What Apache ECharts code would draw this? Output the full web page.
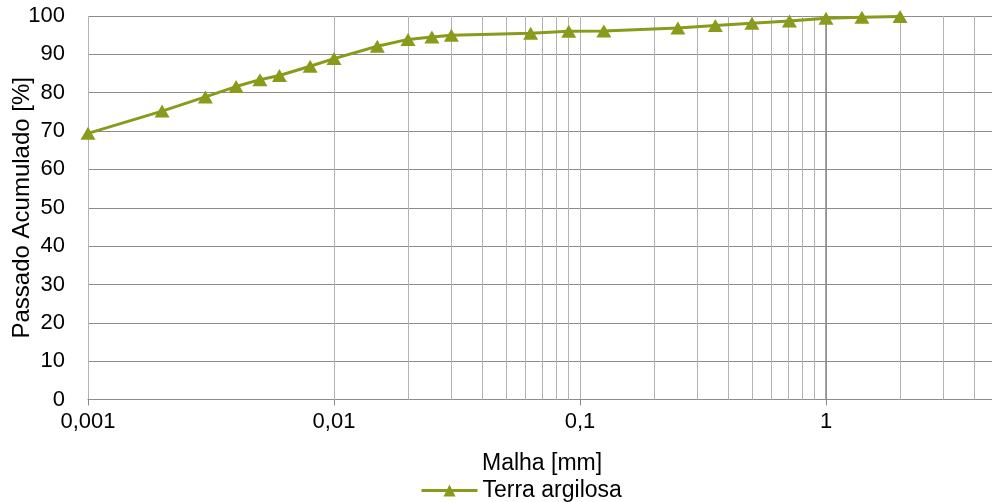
<!DOCTYPE html>
<html>
<head>
<meta charset="utf-8">
<script src="https://cdn.jsdelivr.net/npm/echarts@6/dist/echarts.min.js"></script>
<style>html,body{margin:0;padding:0;background:#fff}#c{width:992px;height:502px}</style>
</head>
<body>
<div id="c"></div>
<script>
// Sieve sizes (mm) and cumulative passing (%)
const sizes = [0.001, 0.002, 0.003, 0.004, 0.005, 0.006, 0.008, 0.01, 0.015, 0.02, 0.025, 0.03, 0.063, 0.09, 0.125, 0.25, 0.355, 0.5, 0.71, 1, 1.4, 2];
const passing = [69.4, 75.2, 78.9, 81.6, 83.4, 84.5, 86.9, 88.9, 92.1, 93.9, 94.5, 95.0, 95.5, 96.0, 96.1, 96.9, 97.5, 98.1, 98.7, 99.4, 99.7, 99.9];
const seriesName = 'Terra argilosa';
const xTitle = 'Malha [mm]';
const yTitle = 'Passado Acumulado [%]';
const xMin = 0.001, xMax = 10;

// minor log gridline positions (2..9 in each decade)
const minorGrid = [];
for (let d = 0.001; d < xMax * 0.99; d *= 10) {
  for (let m = 2; m <= 9; m++) minorGrid.push(+(m * d).toPrecision(3));
}

const FONT = '"Liberation Sans", Arial, sans-serif';
const chart = echarts.init(document.getElementById('c'), null, {renderer: 'canvas'});
chart.setOption({
  animation: false,
  textStyle: {fontFamily: FONT},
  grid: {left: 88, right: -80, top: 16, height: 383.5, containLabel: false, outerBoundsMode: 'none'},
  xAxis: {
    type: 'log', logBase: 10, min: xMin, max: xMax,
    axisLine: {show: true, lineStyle: {color: '#8c8c8c', width: 1}},
    axisTick: {show: true, length: 6, lineStyle: {color: '#8c8c8c'}},
    axisLabel: {fontSize: 22, color: '#000', margin: 11, fontFamily: FONT,
      formatter: v => String(+v.toPrecision(3)).replace('.', ',')},
    splitLine: {show: true, lineStyle: {color: '#b2b2b2', width: 1}}
  },
  yAxis: {
    type: 'value', min: 0, max: 100, interval: 10,
    name: yTitle, nameLocation: 'middle', nameGap: 54, nameMoveOverlap: false,
    nameTextStyle: {fontSize: 24, color: '#000', fontFamily: FONT},
    axisLine: {show: false},
    axisTick: {show: false},
    axisLabel: {fontSize: 22, color: '#000', margin: 23, fontFamily: FONT},
    splitLine: {show: true, lineStyle: {color: '#8c8c8c', width: 1}}
  },
  legend: {
    show: true, left: 415, top: 474, itemWidth: 56, itemHeight: 15, itemGap: 10,
    textStyle: {fontSize: 23, color: '#000', fontFamily: FONT},
    lineStyle: {width: 3, color: '#8a9a1b'},
    itemStyle: {color: '#8a9a1b'},
    data: [seriesName]
  },
  graphic: [{
    type: 'text', left: 482, top: 452,
    style: {text: xTitle, font: '23px ' + FONT, fill: '#000'}
  }],
  series: [
    {
      type: 'line', name: '_grid', data: [], z: 1, silent: true,
      markLine: {
        silent: true, symbol: 'none', label: {show: false},
        lineStyle: {color: '#b2b2b2', width: 1, type: 'solid'},
        data: minorGrid.map(v => ({xAxis: v})).concat([{xAxis: 1, lineStyle: {color: '#868686', width: 1.5}}])
      }
    },
    {
      type: 'line', name: seriesName, z: 5,
      data: sizes.map((s, i) => [s, passing[i]]),
      symbol: 'triangle', symbolSize: [15, 13],
      lineStyle: {color: '#8a9a1b', width: 3},
      itemStyle: {color: '#8a9a1b'}
    }
  ]
});
</script>
</body>
</html>
